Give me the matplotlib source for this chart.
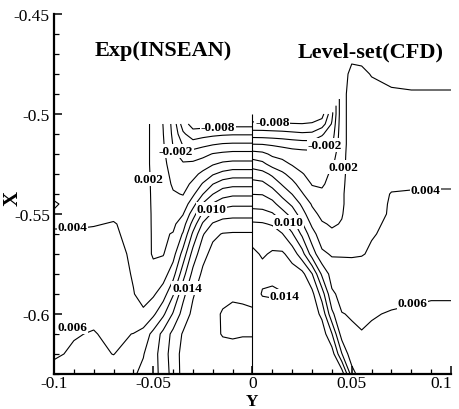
import numpy as np
import matplotlib
matplotlib.use("Agg")
import matplotlib.pyplot as plt
import matplotlib.transforms as mtransforms
from matplotlib.ticker import MultipleLocator, FixedLocator, FixedFormatter

plt.rcParams['font.family'] = ['Liberation Serif', 'DejaVu Serif']

# ---------------- data ----------------
LEVELS = [-0.008, -0.006, -0.004, -0.002, 0.0, 0.002, 0.004, 0.006,
          0.008, 0.010, 0.012, 0.014, 0.016]

X_TICKS = [-0.1, -0.05, 0.0, 0.05, 0.1]
X_TICK_LABELS = ["-0.1", "-0.05", "0", "0.05", "0.1"]
Y_TICKS = [-0.6, -0.55, -0.5, -0.45]
Y_TICK_LABELS = ["-0.6", "-0.55", "-0.5", "-0.45"]

# Experimental (INSEAN) field, left half; values in units of 1e-3
EXP_X = [-0.10, -0.09, -0.08, -0.07, -0.06, -0.055, -0.05, -0.045, -0.04,
         -0.035, -0.03, -0.025, -0.02, -0.015, -0.01, -0.005, 0.0]
EXP_Y = [-0.63, -0.62, -0.61, -0.60, -0.59, -0.58, -0.57, -0.56, -0.555,
         -0.55, -0.545, -0.54, -0.535, -0.53, -0.525, -0.52, -0.515, -0.51, -0.505]
EXP_Z_MILLI = [
    [6.5, 6.7, 6.9, 7.2, 7.8, 8.4, 9.2, 10.8, 12.8, 14.6, 15.3, 15.4, 15.5, 15.6, 15.6, 15.6, 15.6],
    [5.8, 6.2, 6.5, 5.95, 7.0, 7.9, 9.2, 11.0, 13.0, 14.6, 15.3, 15.5, 15.6, 15.7, 15.7, 15.7, 15.7],
    [5.5, 5.9, 6.1, 5.6, 6.05, 6.8, 8.6, 10.6, 12.6, 14.2, 15.1, 15.5, 15.8, 16.05, 16.1, 16.05, 16.05],
    [5.2, 5.5, 5.6, 5.1, 4.4, 4.2, 5.6, 7.6, 10.2, 12.8, 14.5, 15.3, 15.7, 16.1, 16.3, 16.2, 16.1],
    [5.0, 5.2, 5.2, 4.8, 4.05, 3.6, 3.7, 5.05, 7.8, 11.4, 13.8, 15.05, 15.5, 15.7, 15.8, 15.8, 15.8],
    [4.8, 4.9, 4.9, 4.6, 3.9, 3.4, 2.9, 3.05, 5.2, 9.2, 12.6, 14.4, 15.1, 15.2, 15.3, 15.3, 15.3],
    [4.5, 4.6, 4.7, 4.4, 3.8, 3.3, 1.7, 1.9, 3.2, 6.8, 10.8, 13.4, 14.6, 14.7, 14.8, 14.8, 14.8],
    [4.2, 4.2, 4.3, 4.2, 3.6, 3.2, 1.7, 1.8, 2.1, 4.2, 8.4, 11.8, 13.6, 14.1, 14.2, 14.2, 14.2],
    [3.8, 3.8, 3.9, 4.1, 3.5, 3.1, 1.7, 1.7, 1.6, 3.05, 6.8, 10.3, 12.2, 12.8, 12.9, 12.9, 12.9],
    [3.9, 3.7, 3.6, 3.7, 3.4, 3.05, 1.7, 1.6, 1.2, 1.9, 5.05, 8.4, 10.4, 11.2, 11.4, 11.4, 11.4],
    [4.1, 3.7, 3.6, 3.5, 3.3, 2.9, 1.7, 1.4, 0.6, 0.8, 3.2, 6.2, 8.2, 9.2, 9.6, 9.6, 9.6],
    [3.8, 3.6, 3.5, 3.4, 3.2, 2.8, 1.7, 1.2, 0.2, -0.1, 1.6, 3.95, 5.95, 7.2, 7.6, 7.6, 7.6],
    [3.7, 3.5, 3.4, 3.3, 3.1, 2.7, 1.7, 1.05, -0.3, -0.7, 0.4, 2.2, 3.95, 5.05, 5.4, 5.4, 5.4],
    [3.6, 3.4, 3.3, 3.2, 3.05, 2.6, 1.7, 0.8, -0.6, -1.2, -0.6, 0.5, 1.8, 2.6, 3.1, 3.1, 3.1],
    [3.5, 3.3, 3.2, 3.1, 2.9, 2.5, 1.7, 0.6, -1.05, -1.8, -1.6, -1.05, -0.2, 0.4, 0.6, 0.6, 0.6],
    [3.4, 3.2, 3.2, 3.1, 2.9, 2.5, 1.7, 0.4, -1.5, -2.8, -3.1, -2.6, -1.9, -1.6, -1.4, -1.4, -1.4],
    [3.3, 3.2, 3.2, 3.1, 2.9, 2.5, 1.7, 0.2, -2.1, -4.2, -5.1, -4.6, -4.2, -3.9, -3.8, -3.8, -3.8],
    [3.3, 3.2, 3.2, 3.1, 2.9, 2.5, 1.7, 0.05, -2.4, -5.6, -7.2, -6.8, -6.5, -6.3, -6.2, -6.2, -6.2],
    [3.3, 3.2, 3.2, 3.1, 2.9, 2.5, 1.7, -0.05, -2.6, -7.1, -8.8, -8.9, -8.9, -8.8, -8.7, -8.7, -8.7],
]

# Level-set (CFD) field, right half; values in units of 1e-3 (None = no data)
CFD_X = [0.0, 0.005, 0.01, 0.015, 0.02, 0.025, 0.03, 0.035, 0.04, 0.045,
         0.05, 0.055, 0.06, 0.07, 0.08, 0.09, 0.10]
CFD_Y = [-0.63, -0.62, -0.61, -0.60, -0.59, -0.58, -0.57, -0.56, -0.555,
         -0.55, -0.545, -0.54, -0.535, -0.53, -0.525, -0.52, -0.515, -0.51,
         -0.505, -0.50, -0.49, -0.48, -0.47, -0.46, -0.45]
_N = None
CFD_Z_MILLI = [
    [15.8, 15.8, 15.8, 15.8, 15.8, 15.8, 15.8, 15.7, 15.5, 15.2, 9.0, 6.6, 6.7, 6.8, 6.9, 7.05, 7.05],
    [15.8, 15.8, 15.8, 15.8, 15.8, 15.8, 15.7, 15.6, 15.05, 10.1, 6.6, 6.3, 6.4, 6.6, 6.7, 6.8, 6.8],
    [15.8, 15.8, 15.8, 15.8, 15.8, 15.7, 15.6, 15.2, 12.1, 7.05, 6.2, 6.05, 6.2, 6.3, 6.5, 6.6, 6.6],
    [15.6, 15.6, 15.6, 15.6, 15.6, 15.5, 15.2, 13.5, 8.5, 6.05, 5.9, 5.8, 5.9, 6.1, 6.15, 6.2, 6.2],
    [15.3, 13.8, 13.6, 13.9, 15.2, 15.2, 14.6, 11.05, 6.3, 5.5, 5.4, 5.3, 5.4, 5.6, 5.8, 5.9, 5.9],
    [14.9, 14.6, 14.6, 14.7, 14.9, 14.6, 12.1, 7.6, 5.2, 5.05, 4.9, 4.8, 4.9, 5.05, 5.1, 5.2, 5.2],
    [14.4, 13.8, 14.2, 14.3, 13.2, 10.8, 7.05, 4.4, 3.8, 3.8, 3.8, 3.9, 4.2, 4.5, 4.6, 4.7, 4.7],
    [13.2, 13.1, 13.05, 12.1, 10.2, 7.6, 4.8, 2.8, 2.3, 2.5, 3.05, 3.5, 3.9, 4.3, 4.5, 4.6, 4.6],
    [12.3, 12.2, 11.8, 10.6, 8.8, 6.2, 3.6, 2.2, 1.8, 2.1, 2.9, 3.4, 3.8, 4.2, 4.4, 4.5, 4.5],
    [10.8, 10.7, 10.2, 8.8, 7.2, 4.8, 2.6, 1.5, 1.3, 1.9, 2.8, 3.3, 3.7, 4.1, 4.3, 4.4, 4.4],
    [9.3, 9.2, 8.6, 7.05, 5.6, 3.6, 1.8, 0.9, 1.05, 1.8, 2.7, 3.2, 3.6, 4.1, 4.2, 4.3, 4.3],
    [7.95, 7.9, 7.05, 5.4, 3.95, 2.2, 0.6, 0.3, 0.8, 1.8, 2.7, 3.1, 3.5, 4.05, 4.1, 4.1, 4.1],
    [6.7, 6.5, 5.3, 3.8, 2.6, 1.05, -0.1, -0.2, 0.5, 1.7, 2.7, 3.1, 3.4, 3.8, 3.85, 3.9, 3.9],
    [5.05, 4.7, 3.6, 2.4, 1.2, 0.1, -0.5, -0.4, 0.2, 1.6, 2.7, 3.05, 3.3, 3.5, 3.6, 3.7, 3.7],
    [3.05, 2.5, 1.2, 0.6, -0.2, -0.6, -0.9, -0.9, -0.4, 1.6, 2.7, 3.05, 3.2, 3.4, 3.5, 3.5, 3.5],
    [0.8, 0.5, -0.4, -0.7, -1.05, -1.2, -1.3, -1.3, -1.1, 1.6, 2.6, 2.9, 3.1, 3.3, 3.3, 3.4, 3.4],
    [-2.05, -2.1, -2.3, -2.6, -2.9, -3.1, -3.2, -3.05, -2.4, 1.5, 2.6, 2.9, 3.05, 3.2, 3.2, 3.3, 3.3],
    [-5.05, -5.1, -5.2, -5.3, -5.5, -5.7, -5.6, -4.2, -3.05, 1.5, 2.6, 2.8, 2.9, 3.05, 3.05, 3.1, 3.1],
    [-7.6, -7.6, -7.7, -7.8, -7.9, -7.95, -7.8, -7.05, -3.8, 1.5, 2.6, 2.7, 2.8, 2.9, 2.9, 2.9, 2.9],
    [-9.5, -9.5, -9.5, -9.5, -9.5, -9.4, -9.3, -8.8, -4.5, 1.5, 2.6, 2.7, 2.6, 2.5, 2.4, 2.4, 2.4],
    [_N, _N, _N, _N, _N, _N, _N, _N, _N, 1.5, 2.6, 2.6, 2.3, 2.1, 2.05, 2.05, 2.05],
    [_N, _N, _N, _N, _N, _N, _N, _N, _N, 1.5, 2.3, 2.2, 1.95, 1.8, 1.8, 1.8, 1.8],
    [_N, _N, _N, _N, _N, _N, _N, _N, _N, 1.4, 1.7, 1.7, 1.6, 1.5, 1.5, 1.5, 1.5],
    [_N, _N, _N, _N, _N, _N, _N, _N, _N, 1.3, 1.5, 1.5, 1.5, 1.4, 1.4, 1.4, 1.4],
    [_N, _N, _N, _N, _N, _N, _N, _N, _N, 1.3, 1.4, 1.4, 1.4, 1.3, 1.3, 1.3, 1.3],
]

# contour labels: (level, x, y)
CONTOUR_LABELS = [
    (-0.008, -0.0175, -0.5065), (-0.002, -0.0385, -0.5185), (0.002, -0.0525, -0.5325),
    (0.010, -0.0205, -0.5475), (0.004, -0.0905, -0.5565), (0.014, -0.0330, -0.5870),
    (0.006, -0.0905, -0.6065),
    (-0.008, 0.0100, -0.5040), (-0.002, 0.0365, -0.5155), (0.002, 0.0456, -0.5265),
    (0.004, 0.0870, -0.5380), (0.010, 0.0180, -0.5540), (0.014, 0.0160, -0.5910),
    (0.006, 0.0805, -0.5945),
]

# ---------------- plot ----------------
fig = plt.figure(figsize=(4.6, 4.1), dpi=100)
ax = fig.add_axes([0.1174, 0.0854, 0.863, 0.878])

ez = np.array(EXP_Z_MILLI, dtype=float) * 1e-3
cz = np.ma.masked_invalid(np.array(CFD_Z_MILLI, dtype=float) * 1e-3)

ax.contour(EXP_X, EXP_Y, ez, levels=LEVELS, colors='black',
           linewidths=0.8, linestyles='solid')
ax.contour(CFD_X, CFD_Y, cz, levels=LEVELS, colors='black',
           linewidths=0.8, linestyles='solid')

# divider between the two halves (edge of the CFD data)
valid = ~np.isnan(np.array(CFD_Z_MILLI, dtype=float)[:, 0])
top = max(y for y, v in zip(CFD_Y, valid) if v)
ax.vlines(CFD_X[0], CFD_Y[0], top, colors='black', linewidth=0.8)

for lev, x, y in CONTOUR_LABELS:
    ax.text(x, y, f"{lev:.3f}", fontsize=9.5, fontweight='bold',
            ha='center', va='center', zorder=5,
            bbox=dict(boxstyle='square,pad=0.05', fc='white', ec='none'))

ax.set_xlim(-0.1, 0.1)
ax.set_ylim(-0.63, -0.45)
for s in ('top', 'right'):
    ax.spines[s].set_visible(False)
for s in ('left', 'bottom'):
    ax.spines[s].set_linewidth(1.6)

ax.xaxis.set_major_locator(FixedLocator(X_TICKS))
ax.xaxis.set_major_formatter(FixedFormatter(X_TICK_LABELS))
ax.yaxis.set_major_locator(FixedLocator(Y_TICKS))
ax.yaxis.set_major_formatter(FixedFormatter(Y_TICK_LABELS))
ax.xaxis.set_minor_locator(MultipleLocator(0.01))
ax.yaxis.set_minor_locator(MultipleLocator(0.01))
ax.tick_params(which='both', direction='in', top=False, right=False)
ax.tick_params(which='major', length=6, width=1.1, labelsize=12.5, pad=3)
ax.tick_params(axis='x', which='major', pad=1)
ax.tick_params(which='minor', length=3.5, width=0.9)

# keep the last x tick label inside the figure
last = ax.xaxis.get_major_ticks()[-1].label1
last.set_transform(last.get_transform() +
                   mtransforms.ScaledTranslation(-7 / 72, 0, fig.dpi_scale_trans))

ax.text(0.2746, 0.90, "Exp(INSEAN)", transform=ax.transAxes, ha='center',
        va='center', fontsize=16, fontweight='bold')
ax.text(0.7985, 0.897, "Level-set(CFD)", transform=ax.transAxes, ha='center',
        va='center', fontsize=16, fontweight='bold')
ax.text(-0.105, 0.49, "X", transform=ax.transAxes, ha='center', va='center',
        rotation=90, fontsize=15, fontweight='bold')
ax.text(0.5, -0.0985, "Y", transform=ax.transAxes, ha='center', va='bottom',
        fontsize=12.5, fontweight='bold')

fig.savefig("out.png", dpi=100)
